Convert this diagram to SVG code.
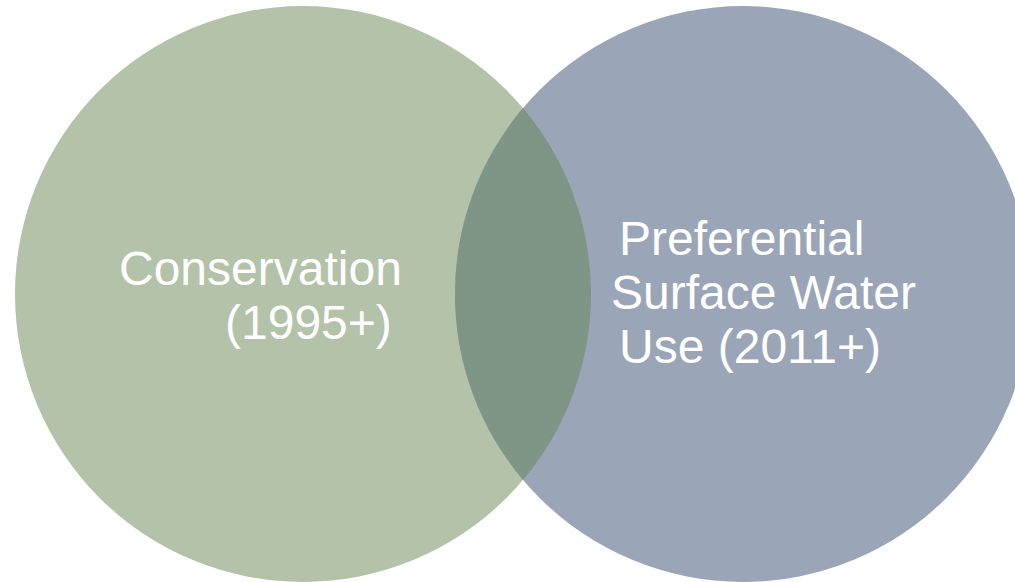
<svg xmlns="http://www.w3.org/2000/svg" width="1015" height="582" viewBox="0 0 1015 582">
  <style>
    .lbl { font-family: "Liberation Sans", Arial, sans-serif; font-size: 48px; fill: #ffffff; }
  </style>
  <rect width="1015" height="582" fill="#ffffff"/>
  <g id="node-conservation">
    <circle cx="303" cy="294" r="288" fill="#B3C2A8"/>
  </g>
  <g id="node-preferential">
    <circle cx="743" cy="294" r="288" fill="#9BA5B8"/>
  </g>
  <g id="overlap">
    <path d="M523,108.1 A288,288 0 0 1 523,479.9 A288,288 0 0 1 523,108.1 Z" fill="#7F9585"/>
  </g>
  <g id="labels">
    <text class="lbl" x="119" y="285">Conservation</text>
    <text class="lbl" x="225" y="339">(1995+)</text>
    <text class="lbl" x="619" y="255">Preferential</text>
    <text class="lbl" x="611" y="309">Surface Water</text>
    <text class="lbl" x="619" y="363">Use (2011+)</text>
  </g>
  <g id="connectors"></g>
</svg>
